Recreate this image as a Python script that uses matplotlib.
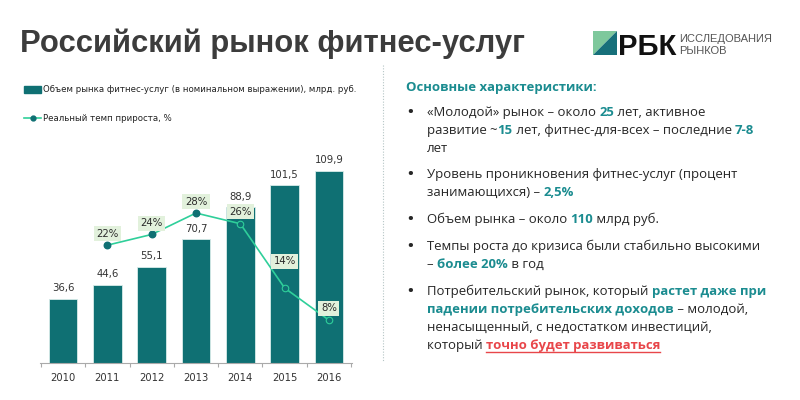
import matplotlib
matplotlib.use("Agg")
import matplotlib.pyplot as plt
from matplotlib.lines import Line2D
from matplotlib.patches import Polygon
import numpy as np

# данные
years = ["2010", "2011", "2012", "2013", "2014", "2015", "2016"]
market = [36.6, 44.6, 55.1, 70.7, 88.9, 101.5, 109.9]
growth_years = ["2011", "2012", "2013", "2014", "2015", "2016"]
growth = [22, 24, 28, 26, 14, 8]

bar_label = "Объем рынка фитнес-услуг (в номинальном выражении), млрд. руб."
line_label = "Реальный темп прироста, %"
title = "Российский рынок фитнес-услуг"

TEAL = "#0f7073"
GREEN = "#2fcf9a"
HL = "#1b8c90"
RED = "#e8464a"
DARK = "#262626"

plt.rcParams['font.family'] = ['DejaVu Sans']

fig = plt.figure(figsize=(8, 4), dpi=100)
fig.patch.set_facecolor("white")

# --- график ---
ax = fig.add_axes([0.05, 0.0925, 0.39, 0.5075])
x = np.arange(len(years))
bars = ax.bar(x, market, width=0.65, color=TEAL, edgecolor="#d8ecea", linewidth=0.6, zorder=2)
ax.set_xlim(-0.52, 6.52)
ax.set_ylim(0, 116)
for xi, v in zip(x, market):
    ax.annotate(f"{v:.1f}".replace(".", ","), (xi, v), xytext=(0, 4), textcoords="offset points",
                ha="center", va="bottom", fontsize=7.3, color="#333333")
ax.set_xticks(x)
ax.set_xticklabels(years, fontsize=7.2, color="#333333")
ax.set_xticks(np.arange(-0.5, 7, 1), minor=True)
ax.tick_params(axis="x", which="major", length=0, pad=7.5)
ax.tick_params(axis="x", which="minor", length=3, color="#aaaaaa", width=0.8)
ax.set_yticks([])
for s in ["top", "right", "left"]:
    ax.spines[s].set_visible(False)
ax.spines["bottom"].set_color("#aaaaaa")
ax.patch.set_visible(False)

ax2 = ax.twinx()
ax2.set_ylim(0, 37.9)
ax2.axis("off")
gx = [years.index(y) for y in growth_years]
ax2.plot(gx, growth, color=GREEN, lw=1.2, zorder=3)
filled = [0, 1, 2]
ax2.scatter([gx[i] for i in filled], [growth[i] for i in filled], s=22, color=TEAL, zorder=4)
hollow = [3, 4, 5]
ax2.scatter([gx[i] for i in hollow], [growth[i] for i in hollow], s=22, facecolor=TEAL,
            edgecolor=GREEN, linewidth=0.8, zorder=4)
offs = [4.5, 4.5, 4.5, 5, 15.5, 5]
for xi, v, o in zip(gx, growth, offs):
    ax2.annotate(f"{v}%", (xi, v), xytext=(0, o), textcoords="offset points", ha="center", va="bottom",
                 fontsize=7.3, color="#2a2a2a", zorder=5,
                 bbox=dict(boxstyle="square,pad=0.25", fc="#e2f1dc", ec="none"))

h_bar = plt.Rectangle((0, 0), 1, 1, color=TEAL)
h_line = Line2D([], [], color=GREEN, lw=1.2, marker="o", ms=3.5, mfc=TEAL, mec=TEAL)
fig.legend([h_bar, h_line], [bar_label, line_label], loc="upper left", bbox_to_anchor=(0.026, 0.795),
           frameon=False, fontsize=6.25, handlelength=1.9, handleheight=0.9, handletextpad=0.25,
           labelspacing=2.3, borderaxespad=0, labelcolor="#222222")

# --- слой для текста в пикселях ---
ov = fig.add_axes([0, 0, 1, 1])
ov.set_xlim(0, 800)
ov.set_ylim(400, 0)
ov.axis("off")
ov.patch.set_visible(False)
renderer = fig.canvas.get_renderer()

def fit_size(text, width, family, weight):
    t = ov.text(0, 0, text, fontsize=10, family=family, weight=weight)
    w = t.get_window_extent(renderer).width
    t.remove()
    return 10 * width / w

tfam = ["Liberation Sans", "DejaVu Sans"]
ts = fit_size(title, 505, tfam, "bold")
ov.text(20, 52, title, fontsize=ts, family=tfam, weight="bold", color="#3c3c3c", va="baseline")

# логотип
ov.add_patch(Polygon([(593, 31), (617, 31), (593, 55)], closed=True, color="#7ec89c", lw=0))
ov.add_patch(Polygon([(617, 31), (617, 55), (593, 55)], closed=True, color="#17707a", lw=0))
ov.text(618, 55, "РБК", fontsize=fit_size("РБК", 58, tfam, "bold"), family=tfam, weight="bold",
        color="#111111", va="baseline")
ls = fit_size("ИССЛЕДОВАНИЯ", 93, tfam, "normal")
ov.text(679, 42, "ИССЛЕДОВАНИЯ", fontsize=ls, family=tfam, color="#555555", va="baseline")
ov.text(679, 54, "РЫНКОВ", fontsize=ls, family=tfam, color="#555555", va="baseline")

# правая часть
ov.plot([383, 383], [65, 362], color="#b5c5c5", lw=0.8, ls=(0, (1, 1.5)))
bfam = ["Open Sans", "DejaVu Sans"]
bs = fit_size("Темпы роста до кризиса были стабильно высокими", 331, bfam, "normal")
ov.text(406, 91, "Основные характеристики:", fontsize=bs, family=bfam, weight="bold", color=HL,
        va="baseline")

def rich(xs, y, segs):
    for txt, col, bold, under in segs:
        t = ov.text(xs, y, txt, fontsize=bs, family=bfam, weight="bold" if bold else "normal",
                    color=col, va="baseline")
        w = t.get_window_extent(renderer).width
        if under:
            ov.plot([xs, xs + w], [y + 3, y + 3], color=col, lw=1.0)
        xs += w

N = lambda s: (s, DARK, False, False)
H = lambda s: (s, HL, True, False)

bullets = [
    [116, [N("«Молодой» рынок – около "), H("25"), N(" лет, активное")]],
    [134, [N("развитие ~"), H("15"), N(" лет, фитнес-для-всех – последние "), H("7-8")]],
    [152, [N("лет")]],
    [178, [N("Уровень проникновения фитнес-услуг (процент")]],
    [196, [N("занимающихся) – "), H("2,5%")]],
    [223, [N("Объем рынка – около "), H("110"), N(" млрд руб.")]],
    [250, [N("Темпы роста до кризиса были стабильно высокими")]],
    [268, [N("– "), H("более 20%"), N(" в год")]],
    [295, [N("Потребительский рынок, который "), H("растет даже при")]],
    [313, [H("падении потребительских доходов"), N(" – молодой,")]],
    [331, [N("ненасыщенный, с недостатком инвестиций,")]],
    [349, [N("который "), ("точно будет развиваться", RED, True, True)]],
]
for y in [116, 178, 223, 250, 295]:
    ov.text(407.5, y, "•", fontsize=bs * 1.15, family=bfam, weight="bold", color=DARK, va="baseline")
for y, segs in bullets:
    rich(427, y, segs)

fig.savefig("out.png", dpi=100, facecolor="white")
